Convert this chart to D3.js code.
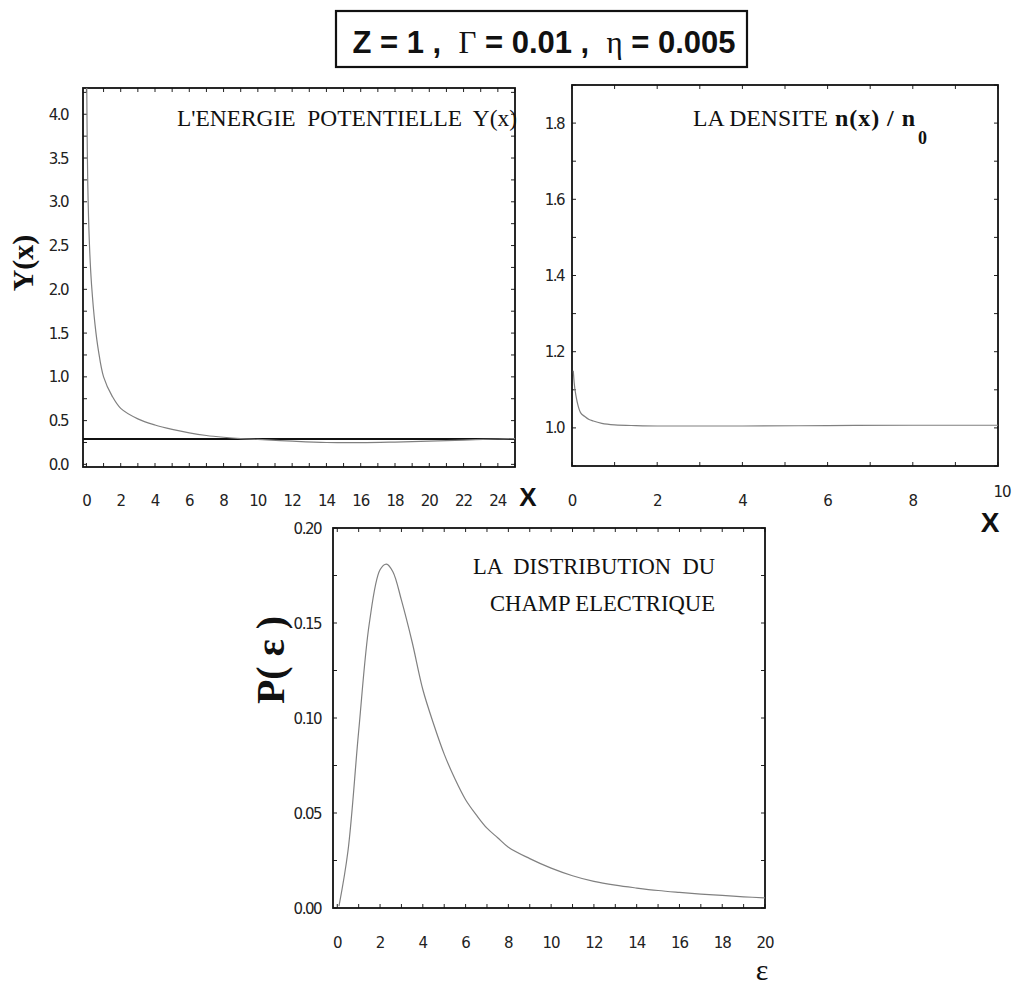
<!DOCTYPE html>
<html><head><meta charset="utf-8">
<script src="https://cdn.jsdelivr.net/npm/d3@7"></script>
<style>body{margin:0;background:#fff}svg{display:block}text{white-space:pre}</style>
</head><body>
<script>
// ---------- DATA ----------
const energyX = [0.02,0.05,0.1,0.2,0.3,0.5,0.7,1.0,1.5,2,3,4,5,6,7,8,9,10,12,14,16,18,20,22,24,25];
const energyY = [4.3,3.6,3.0,2.4,2.05,1.6,1.3,1.0,0.78,0.64,0.52,0.45,0.40,0.36,0.33,0.31,0.295,0.285,0.265,0.25,0.248,0.255,0.265,0.278,0.29,0.295];
const energyRef = 0.29;
const densX = [0.03,0.05,0.1,0.15,0.2,0.3,0.4,0.5,0.7,1,1.5,2,3,4,6,8,10];
const densY = [1.15,1.12,1.08,1.055,1.04,1.03,1.022,1.018,1.012,1.008,1.006,1.005,1.005,1.005,1.006,1.007,1.007];
const fieldX = [0.08,0.5,1.0,1.5,2.0,2.3,2.6,3.0,3.5,4.0,4.5,5.0,5.5,6.0,6.5,7.0,7.5,8.0,9,10,11,12,13,14,15,16,17,18,19,20];
const fieldY = [0.001,0.03,0.093,0.15,0.178,0.181,0.177,0.162,0.14,0.115,0.097,0.081,0.068,0.057,0.049,0.042,0.037,0.032,0.026,0.021,0.017,0.014,0.012,0.0105,0.0092,0.0082,0.0073,0.0066,0.0059,0.0053];
const energyXTicks = [0,2,4,6,8,10,12,14,16,18,20,22,24];
const energyYTicks = [0,0.5,1,1.5,2,2.5,3,3.5,4];
const densXTicks = [0,2,4,6,8,10];
const densYTicks = [1.0,1.2,1.4,1.6,1.8];
const fieldXTicks = [0,2,4,6,8,10,12,14,16,18,20];
const fieldYTicks = [0,0.05,0.10,0.15,0.20];

const W=1014,H=985;
const svg=d3.select("body").append("svg").attr("width",W).attr("height",H);
const tickFont="'DejaVu Sans',sans-serif";
const serif="'Liberation Serif','Times New Roman',serif";
const sans="'Liberation Sans',Arial,sans-serif";

// ---------- Title box ----------
svg.append("rect").attr("x",336).attr("y",11).attr("width",411).attr("height",56)
  .attr("fill","#fff").attr("stroke","#111").attr("stroke-width",2.2);
const tt=svg.append("text").attr("x",544).attr("y",53).attr("text-anchor","middle")
  .attr("font-size",31).attr("fill","#111");
tt.append("tspan").attr("font-family",sans).attr("font-weight","bold").text("Z = 1 ,  ");
tt.append("tspan").attr("font-family",serif).text("Γ");
tt.append("tspan").attr("font-family",sans).attr("font-weight","bold").text(" = 0.01 ,  ");
tt.append("tspan").attr("font-family",serif).text("η");
tt.append("tspan").attr("font-family",sans).attr("font-weight","bold").text(" = 0.005");

// ---------- helper ----------
function panel(o){
  const g=svg.append("g");
  const x=d3.scaleLinear().domain(o.xd).range([o.l,o.r]);
  const y=d3.scaleLinear().domain(o.yd).range([o.b,o.t]);
  const mx=d3.range(o.xd[0]<0?0:o.xd[0],o.xd[1]+1e-9,o.xm);
  const my=d3.range(o.ymin0,o.yd[1]+1e-9,o.ym);
  mx.forEach(v=>{ if(x(v)<o.l||x(v)>o.r) return;
    g.append("line").attr("x1",x(v)).attr("x2",x(v)).attr("y1",o.b).attr("y2",o.b-4).attr("stroke","#222");
    g.append("line").attr("x1",x(v)).attr("x2",x(v)).attr("y1",o.t).attr("y2",o.t+4).attr("stroke","#222");});
  my.forEach(v=>{ if(y(v)<o.t||y(v)>o.b) return;
    g.append("line").attr("y1",y(v)).attr("y2",y(v)).attr("x1",o.l).attr("x2",o.l+4).attr("stroke","#222");
    g.append("line").attr("y1",y(v)).attr("y2",y(v)).attr("x1",o.r).attr("x2",o.r-4).attr("stroke","#222");});
  g.append("rect").attr("x",o.l).attr("y",o.t).attr("width",o.r-o.l).attr("height",o.b-o.t)
    .attr("fill","none").attr("stroke","#111").attr("stroke-width",1.8);
  g.selectAll(".yl").data(o.yt).join("text").attr("x",o.l-o.ylOff).attr("y",d=>y(d)+5.5)
    .attr("text-anchor","end").attr("font-family",tickFont).attr("font-size",15).attr("fill","#222")
    .attr("letter-spacing",-1.5).text(o.yf);
  g.selectAll(".xl").data(o.xt).join("text").attr("x",d=>x(d)+(o.xShift?o.xShift(d):0)).attr("y",d=>o.xlY+(o.xDy?o.xDy(d):0))
    .attr("text-anchor","middle").attr("font-family",tickFont).attr("font-size",15).attr("fill","#222")
    .attr("letter-spacing",-1).text(d=>d);
  return {g,x,y};
}
const smooth=d3.curveCatmullRom.alpha(0.5);

// ---------- Top-left: potential energy ----------
const p1=panel({l:83,r:515,t:88,b:467,xd:[-0.2,25],yd:[-0.03,4.3],xm:1,ym:0.25,ymin0:0,
  xt:energyXTicks,yt:energyYTicks,yf:d3.format(".1f"),ylOff:15,xlY:506});
p1.g.append("line").attr("x1",83).attr("x2",515).attr("y1",p1.y(energyRef)).attr("y2",p1.y(energyRef))
  .attr("stroke","#111").attr("stroke-width",2);
p1.g.append("path").datum(energyX.map((v,i)=>[v,energyY[i]]))
  .attr("d",d3.line().x(d=>p1.x(d[0])).y(d=>p1.y(d[1])).curve(smooth))
  .attr("fill","none").attr("stroke","#808080").attr("stroke-width",1.2);
svg.append("text").attr("x",177).attr("y",126).attr("font-family",serif).attr("font-size",24)
  .attr("textLength",340).attr("lengthAdjust","spacingAndGlyphs").attr("fill","#111").text("L'ENERGIE  POTENTIELLE  Y(x)");
svg.append("text").attr("transform","translate(33,263) rotate(-90)").attr("text-anchor","middle")
  .attr("font-family",serif).attr("font-weight","bold").attr("font-size",30).attr("fill","#111").text("Y(x)");
svg.append("text").attr("x",528).attr("y",506).attr("text-anchor","middle").attr("font-family",sans)
  .attr("font-weight","bold").attr("font-size",26).attr("fill","#111").text("X");

// ---------- Top-right: density ----------
const p2=panel({l:572,r:998,t:85,b:466,xd:[0,10],yd:[0.9,1.9],xm:1,ym:0.1,ymin0:0.9,
  xt:densXTicks,yt:densYTicks,yf:d3.format(".1f"),ylOff:8,xlY:506,
  xShift:d=>d===10?4:0,xDy:d=>d===10?-9:0});
p2.g.append("path").datum(densX.map((v,i)=>[v,densY[i]]))
  .attr("d",d3.line().x(d=>p2.x(d[0])).y(d=>p2.y(d[1])).curve(d3.curveMonotoneX))
  .attr("fill","none").attr("stroke","#808080").attr("stroke-width",1.2);
const dt=svg.append("text").attr("x",693).attr("y",126).attr("font-family",serif).attr("font-size",24).attr("fill","#111");
dt.append("tspan").attr("textLength",135).attr("lengthAdjust","spacingAndGlyphs").text("LA DENSITE");
dt.append("tspan").attr("dx",7).attr("font-weight","bold").attr("textLength",80).attr("lengthAdjust","spacing").text("n(x) / n");
dt.append("tspan").attr("dy",18).attr("dx",2).attr("font-weight","bold").attr("font-size",18).text("0");
svg.append("text").attr("x",990).attr("y",532).attr("text-anchor","middle").attr("font-family",sans)
  .attr("font-weight","bold").attr("font-size",28).attr("fill","#111").text("X");

// ---------- Bottom: field distribution ----------
const p3=panel({l:333,r:765,t:528,b:908,xd:[-0.2,20],yd:[0,0.2],xm:1,ym:0.025,ymin0:0,
  xt:fieldXTicks,yt:fieldYTicks,yf:d3.format(".2f"),ylOff:12,xlY:948});
p3.g.append("path").datum(fieldX.map((v,i)=>[v,fieldY[i]]))
  .attr("d",d3.line().x(d=>p3.x(d[0])).y(d=>p3.y(d[1])).curve(smooth))
  .attr("fill","none").attr("stroke","#808080").attr("stroke-width",1.2);
svg.append("text").attr("x",473).attr("y",574).attr("font-family",serif)
  .attr("font-size",24).attr("textLength",242).attr("lengthAdjust","spacingAndGlyphs").attr("fill","#111").text("LA  DISTRIBUTION  DU");
svg.append("text").attr("x",490).attr("y",611).attr("font-family",serif)
  .attr("font-size",24).attr("textLength",225).attr("lengthAdjust","spacingAndGlyphs").attr("fill","#111").text("CHAMP ELECTRIQUE");
svg.append("text").attr("transform","translate(284,660) rotate(-90)").attr("text-anchor","middle")
  .attr("font-family",serif).attr("font-weight","bold").attr("font-size",40).attr("fill","#111").text("P( ε )");
svg.append("text").attr("x",762).attr("y",980).attr("text-anchor","middle").attr("font-family",serif)
  .attr("font-size",30).attr("fill","#111").text("ε");
</script>
</body></html>
